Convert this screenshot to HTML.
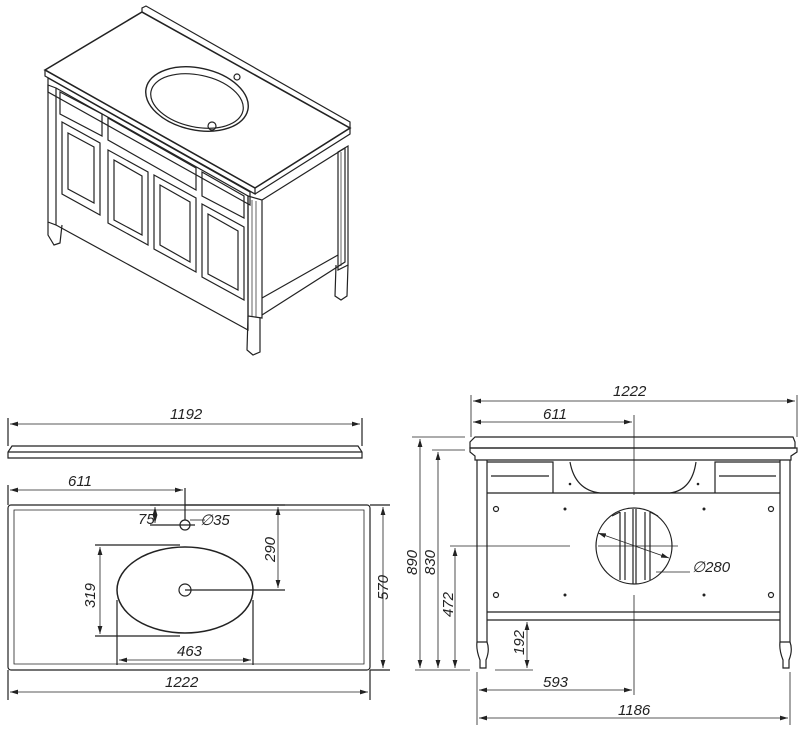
<!DOCTYPE html>
<html><head><style>
body{margin:0;background:#fff}
svg{display:block}
text{font-family:"Liberation Sans",sans-serif;font-style:italic;font-size:15px;fill:#222}
</style></head><body>
<svg width="800" height="731" viewBox="0 0 800 731" xmlns="http://www.w3.org/2000/svg">
<defs><marker id="a" viewBox="0 0 10 6" refX="10" refY="3" markerWidth="10" markerHeight="6" orient="auto-start-reverse"><path d="M0,0L10,3L0,6z" fill="#222"/></marker></defs>
<g fill="none" stroke="#222" stroke-width="1.2">
<!-- isometric -->
<path d="M45,70 L142,12 L350,128 L255,188 Z" stroke-width="1.6"/>
<path d="M45,70 L45,76 L255,194 L255,188 M255,194 L350,134 L350,128"/>
<path d="M142,12 L142,8 L146,6 L350,122 L350,128"/>
<ellipse cx="197" cy="99" rx="52" ry="31" transform="rotate(12 197 99)" stroke-width="1.4"/>
<ellipse cx="197" cy="101" rx="47" ry="26" transform="rotate(12 197 101)"/>
<circle cx="212" cy="126" r="4"/><circle cx="237" cy="77" r="3"/>
<path d="M48,78 L250,192 L250,205 L48,92Z"/>
<path d="M48,85 L56,88 L56,225 L48,222Z M56,88 L248,196 L248,330 L56,225"/>
<path d="M248,196 L262,200 L262,318 L248,316Z M262,200 L345,148 L345,262 L262,315"/>
<path d="M252,200 L252,316 M256,201 L256,317 M341,152 L341,266" stroke-width="0.7"/>
<path d="M338,152 L348,146 L348,265 L338,270Z M262,298 L338,255"/>
<path d="M48,222 L48,235 L54,245 L60,243 L62,225 M248,316 L247,350 L253,355 L260,352 L260,318 M336,265 L335,296 L341,300 L347,296 L348,265"/>
<path d="M60,92 L102,114 L102,136 L60,114Z M108,118 L196,168 L196,190 L108,140Z M202,172 L244,196 L244,218 L202,196Z"/>
<path d="M62,122 L100,143 L100,215 L62,194Z M68,133 L94,147 L94,203 L68,189Z"/>
<path d="M108,150 L148,172 L148,245 L108,223Z M114,160 L142,176 L142,235 L114,220Z"/>
<path d="M154,175 L196,198 L196,272 L154,249Z M160,185 L190,202 L190,262 L160,245Z"/>
<path d="M202,204 L244,227 L244,300 L202,277Z M208,214 L238,231 L238,290 L208,274Z"/>
<!-- left elevation -->
<path d="M12,446 L358,446 L362,452 L362,458 L8,458 L8,452Z"/>
<path d="M8,452 L362,452"/>
<rect x="8" y="505" width="362" height="165" rx="3"/>
<path d="M14,510 L364,510 L364,664 L14,664Z" stroke-width="0.8"/>
<ellipse cx="185" cy="590" rx="68" ry="43" stroke-width="1.5"/>
<circle cx="185" cy="525" r="5"/><circle cx="185" cy="590" r="6"/>
<path d="M185,488 L185,520 M95,545 L180,545 M95,636 L180,636 M117,600 L117,665 M253,600 L253,665 M185,505 L285,505 M185,590 L285,590 M150,505 L160,505 M150,525 L195,525 M370,505 L390,505 M370,670 L390,670 M8,670 L8,700 M370,670 L370,700 M8,418 L8,446 M362,418 L362,446 M8,485 L8,505"/>
<g stroke-width="0.8">
<line x1="10" y1="424" x2="360" y2="424" marker-start="url(#a)" marker-end="url(#a)"/>
<line x1="10" y1="490" x2="183" y2="490" marker-start="url(#a)" marker-end="url(#a)"/>
<line x1="10" y1="692" x2="368" y2="692" marker-start="url(#a)" marker-end="url(#a)"/>
<line x1="119" y1="660" x2="251" y2="660" marker-start="url(#a)" marker-end="url(#a)"/>
<line x1="100" y1="547" x2="100" y2="634" marker-start="url(#a)" marker-end="url(#a)"/>
<line x1="278" y1="507" x2="278" y2="588" marker-start="url(#a)" marker-end="url(#a)"/>
<line x1="155" y1="507" x2="155" y2="523" marker-start="url(#a)" marker-end="url(#a)"/>
<line x1="383" y1="507" x2="383" y2="668" marker-start="url(#a)" marker-end="url(#a)"/>
<line x1="190" y1="520" x2="205" y2="520"/>
</g>
<!-- right elevation -->
<path d="M475,437 L793,437 L795,442 L795,448 L470,448 L470,442 Z"/>
<path d="M470,448 L797,448 L797,452 L791,456 L791,460 L475,460 L475,456 L470,452Z"/>
<path d="M477,460 L477,642 L487,642 L487,460 M780,460 L780,642 L790,642 L790,460"/>
<path d="M477,642 Q476,650 480,660 L480,668 L486,668 L486,660 Q490,650 487,642 M780,642 Q779,650 783,660 L783,668 L789,668 L789,660 Q793,650 790,642"/>
<path d="M487,493 L780,493 M487,612 L780,612 M487,620 L780,620 M487,462 L553,462 L553,493 M491,476 L549,476 M715,493 L715,462 L780,462 M719,476 L776,476"/>
<path d="M570,462 Q575,490 600,493 L670,493 Q692,490 696,462"/>
<circle cx="634" cy="546" r="38"/>
<path d="M620,512 L620,580 M625,512 L625,580 M633,509 L633,584 M636,509 L636,584 M645,512 L645,580 M650,512 L650,580 M612,516 L620,512 M650,512 L658,516"/>
<g fill="#222" stroke="none"><circle cx="565" cy="509" r="1.5"/><circle cx="704" cy="509" r="1.5"/><circle cx="565" cy="595" r="1.5"/><circle cx="704" cy="595" r="1.5"/><circle cx="570" cy="484" r="1.3"/><circle cx="698" cy="484" r="1.3"/></g>
<circle cx="496" cy="509" r="2.5"/><circle cx="771" cy="509" r="2.5"/><circle cx="496" cy="595" r="2.5"/><circle cx="771" cy="595" r="2.5"/>
<g stroke-width="0.8">
<path d="M471,395 L471,437 M797,395 L797,437 M634,415 L634,495 M634,595 L634,695 M412,437 L465,437 M432,450 L465,450 M450,546 L570,546 M598,546 L678,546 M415,670 L470,670 M495,670 L533,670 M477,672 L477,725 M790,672 L790,725 M656,572 L690,572" />
<line x1="473" y1="401" x2="795" y2="401" marker-start="url(#a)" marker-end="url(#a)"/>
<line x1="473" y1="422" x2="632" y2="422" marker-start="url(#a)" marker-end="url(#a)"/>
<line x1="420" y1="439" x2="420" y2="668" marker-start="url(#a)" marker-end="url(#a)"/>
<line x1="438" y1="452" x2="438" y2="668" marker-start="url(#a)" marker-end="url(#a)"/>
<line x1="455" y1="548" x2="455" y2="668" marker-start="url(#a)" marker-end="url(#a)"/>
<line x1="527" y1="622" x2="527" y2="668" marker-start="url(#a)" marker-end="url(#a)"/>
<line x1="479" y1="690" x2="632" y2="690" marker-start="url(#a)" marker-end="url(#a)"/>
<line x1="479" y1="718" x2="788" y2="718" marker-start="url(#a)" marker-end="url(#a)"/>
<line x1="598" y1="533" x2="669" y2="558" marker-start="url(#a)" marker-end="url(#a)"/>
</g>
</g>
<text x="170" y="419">1192</text>
<text x="68" y="486">611</text>
<text x="138" y="524" font-size="13">75</text>
<text x="200" y="525">∅35</text>
<text x="177" y="656">463</text>
<text x="165" y="687">1222</text>
<g font-size="15">
<text transform="translate(95,608) rotate(-90)">319</text>
<text transform="translate(275,562) rotate(-90)">290</text>
<text transform="translate(388,600) rotate(-90)">570</text>
<text transform="translate(417,575) rotate(-90)">890</text>
<text transform="translate(435,575) rotate(-90)">830</text>
<text transform="translate(453,617) rotate(-90)">472</text>
<text transform="translate(524,655) rotate(-90)">192</text>
</g>
<text x="613" y="396">1222</text>
<text x="543" y="419">611</text>
<text x="692" y="572">∅280</text>
<text x="543" y="687">593</text>
<text x="618" y="715">1186</text>
</svg>
</body></html>
